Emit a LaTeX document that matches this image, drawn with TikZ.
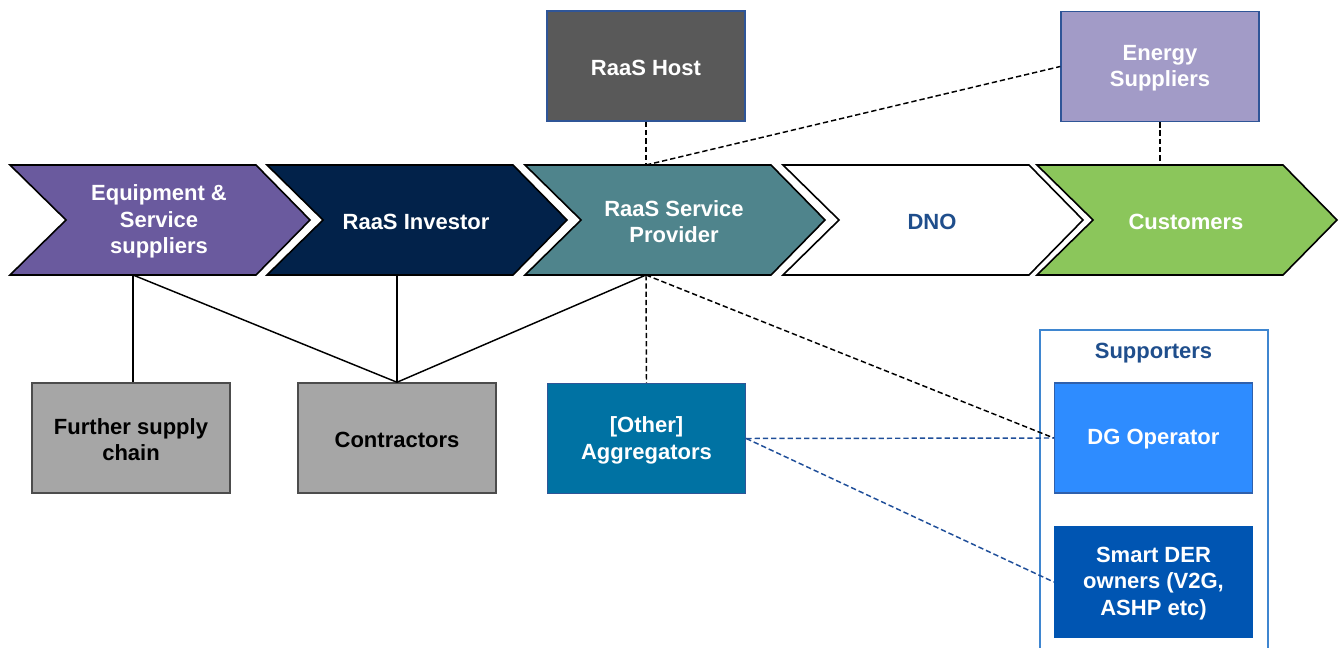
\documentclass[tikz,border=0pt]{standalone}
\usepackage{fontspec}
\setmainfont{Liberation Sans}
\definecolor{cpurple}{HTML}{6A5A9E}
\definecolor{cnavy}{HTML}{02224A}
\definecolor{cteal}{HTML}{4F848C}
\definecolor{cgreen}{HTML}{8BC65B}
\definecolor{dnoblue}{HTML}{1F4E8C}
\definecolor{hostgray}{HTML}{595959}
\definecolor{edgeblue}{HTML}{2F5597}
\definecolor{energyvi}{HTML}{A29BC7}
\definecolor{boxgray}{HTML}{A6A6A6}
\definecolor{aggblue}{HTML}{0072A3}
\definecolor{suppedge}{HTML}{3F86D0}
\definecolor{dgblue}{HTML}{2E8CFF}
\definecolor{derblue}{HTML}{0055B2}
\definecolor{linkblue}{HTML}{1F4E99}
\tikzset{
  chev/.style={draw=black, line width=1.2pt, line join=miter},
  chevtext/.style={font=\bfseries\fontsize{16.5}{20}\selectfont, align=center, text=white},
  box/.style={draw=#1, line width=1.1pt, minimum width=148.5pt, minimum height=82.5pt, inner sep=2pt,
    font=\bfseries\fontsize{16.5}{20}\selectfont, align=center, text=white},
  boxlabel/.style={font=\bfseries\fontsize{16.5}{20}\selectfont, align=center, text=white},
  solidlink/.style={draw=black, line width=1.1pt},
  dashlink/.style={draw=black, line width=1.1pt, dash pattern=on 4pt off 2.2pt},
  bluelink/.style={draw=linkblue, line width=1.1pt, dash pattern=on 4pt off 2.2pt},
}
\newcommand{\mychevron}[5]{%
  \draw[chev, fill=#3] (#2,165) -- ++(246,0) -- ++(54,55) -- ++(-54,55) -- ++(-246,0) -- ++(56,-55) -- cycle;
  \node[chevtext, text=#4] (#1) at (#2+149,221.5) {#5};
}
\newcommand{\mybox}[6]{%
  \node[box=#2, fill=#3] (#1) at (#4) {};
  \node[boxlabel, text=#5] (#1-label) at ([yshift=-1.2pt]#1.center) {#6};
}
\begin{document}
\begin{tikzpicture}[x=0.75pt, y=-0.75pt]
\useasboundingbox (0,0) rectangle (1340,648);

% chevrons
\mychevron{equip}{10}{cpurple}{white}{Equipment \&\\Service\\suppliers}
\mychevron{investor}{267}{cnavy}{white}{RaaS Investor}
\mychevron{provider}{525}{cteal}{white}{RaaS Service\\Provider}
\mychevron{dno}{783}{white}{dnoblue}{DNO}
\mychevron{customers}{1037}{cgreen}{white}{Customers}

\coordinate (equipB) at (133,275);
\coordinate (investorB) at (397,275);
\coordinate (providerB) at (646,275);
\coordinate (providerT) at (646,165);
\coordinate (customersT) at (1160,165);

% top boxes
\mybox{host}{edgeblue}{hostgray}{646,66}{white}{RaaS Host}
\mybox{energy}{edgeblue}{energyvi}{1160,66.5}{white}{Energy\\Suppliers}

% bottom boxes
\mybox{further}{black!70}{boxgray}{131,438}{black}{Further supply\\chain}
\mybox{contractors}{black!70}{boxgray}{397,438}{black}{Contractors}
\mybox{agg}{edgeblue}{aggblue}{646.5,438.5}{white}{[Other]\\Aggregators}

% supporters group
\draw[draw=suppedge, line width=1.1pt] (1040,660) -- (1040,330) -- (1268,330) -- (1268,660);
\node[boxlabel, text=dnoblue] (supporters) at (1153.5,353) {Supporters};
\mybox{dg}{edgeblue!80!dgblue}{dgblue}{1153.5,438}{white}{DG Operator}
\mybox{der}{derblue}{derblue}{1153.5,582}{white}{Smart DER\\owners (V2G,\\ASHP etc)}

% solid links
\draw[solidlink] (equipB) -- (further.north -| equipB);
\draw[solidlink] (equipB) -- (contractors.north);
\draw[solidlink] (investorB) -- (contractors.north);
\draw[solidlink] (providerB) -- (contractors.north);

% dashed black links
\draw[dashlink] (host.south) -- (providerT);
\draw[dashlink] (providerT) -- (energy.west);
\draw[dashlink] (energy.south) -- (customersT);
\draw[dashlink] (providerB) -- (agg.north);
\draw[dashlink] (providerB) -- (dg.west);

% blue dashed links
\draw[bluelink] (agg.east) -- (dg.west);
\draw[bluelink] (agg.east) -- (der.west);
\end{tikzpicture}
\end{document}
